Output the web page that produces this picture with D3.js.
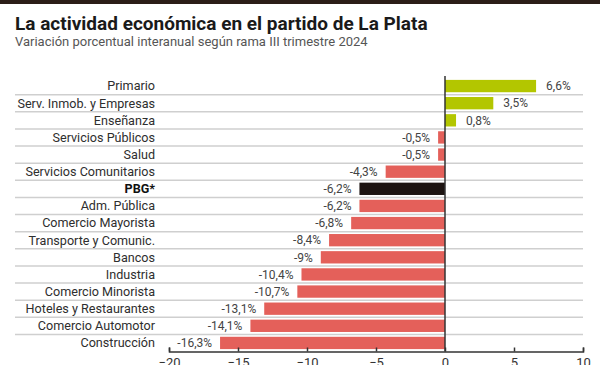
<!DOCTYPE html>
<html>
<head>
<meta charset="utf-8">
<script src="https://cdn.jsdelivr.net/npm/d3@7"></script>
<style>
  body { margin: 0; background: #fff; }
  svg { display: block; font-family: Roboto, "Liberation Sans", sans-serif; }
</style>
</head>
<body>
<svg id="chart" width="600" height="365"></svg>
<script>
// datos
const ramas = ["Primario", "Serv. Inmob. y Empresas", "Enseñanza", "Servicios Públicos", "Salud",
  "Servicios Comunitarios", "PBG*", "Adm. Pública", "Comercio Mayorista", "Transporte y Comunic.",
  "Bancos", "Industria", "Comercio Minorista", "Hoteles y Restaurantes", "Comercio Automotor", "Construcción"];
const variacion = [6.6, 3.5, 0.8, -0.5, -0.5, -4.3, -6.2, -6.2, -6.8, -8.4, -9, -10.4, -10.7, -13.1, -14.1, -16.3];
const ticks = [-20, -15, -10, -5, 0, 5, 10];
const destacado = "PBG*";

const data = ramas.map((r, i) => ({rama: r, valor: variacion[i]}));

const svg = d3.select("#chart");

// franja superior
svg.append("rect").attr("x", 0).attr("y", 0).attr("width", 600).attr("height", 4).attr("fill", "#2b1d17");

svg.append("text")
    .attr("x", 15).attr("y", 30)
    .attr("font-size", 19).attr("font-weight", "bold").attr("fill", "#1a1a1a")
    .text("La actividad económica en el partido de La Plata");
svg.append("text")
    .attr("x", 15).attr("y", 46)
    .attr("font-size", 13).attr("fill", "#555")
    .text("Variación porcentual interanual según rama III trimestre 2024");

const x = d3.scaleLinear().domain([-20, 10]).range([169, 583]);
const y = d3.scaleBand().domain(ramas).range([77.5, 351.5]).paddingInner(0.28).paddingOuter(0.14);
const step = y.step();

// lineas de grilla entre filas
svg.append("g")
  .selectAll("line")
  .data(ramas.slice(1))
  .join("line")
    .attr("x1", 15).attr("x2", 583)
    .attr("y1", d => y(d) - step * y.paddingInner() / 2)
    .attr("y2", d => y(d) - step * y.paddingInner() / 2)
    .attr("stroke", "#cfcfcf").attr("stroke-width", 1.5);

// etiquetas de ramas
svg.append("g")
  .selectAll("text")
  .data(data)
  .join("text")
    .attr("x", 155)
    .attr("y", d => y(d.rama) + y.bandwidth() / 2)
    .attr("dy", "0.35em")
    .attr("text-anchor", "end")
    .attr("font-size", 12.6)
    .attr("font-weight", d => d.rama === destacado ? "bold" : "normal")
    .attr("fill", d => d.rama === destacado ? "#111" : "#2e2e2e")
    .text(d => d.rama);

// barras
svg.append("g")
  .selectAll("rect")
  .data(data)
  .join("rect")
    .attr("x", d => x(Math.min(0, d.valor)))
    .attr("y", d => y(d.rama))
    .attr("width", d => Math.abs(x(d.valor) - x(0)))
    .attr("height", y.bandwidth())
    .attr("fill", d => d.rama === destacado ? "#1c1311" : (d.valor >= 0 ? "#b3c600" : "#e4605a"));

// valores
const fmt = v => String(v).replace(".", ",") + "%";
svg.append("g")
  .selectAll("text")
  .data(data)
  .join("text")
    .attr("x", d => d.valor >= 0 ? x(d.valor) + 10 : x(d.valor) - 8)
    .attr("y", d => y(d.rama) + y.bandwidth() / 2)
    .attr("dy", "0.35em")
    .attr("text-anchor", d => d.valor >= 0 ? "start" : "end")
    .attr("font-size", 12)
    .attr("fill", "#444")
    .text(d => fmt(d.valor));

// linea del cero
svg.append("line")
    .attr("x1", x(0)).attr("x2", x(0))
    .attr("y1", 76).attr("y2", 351.5)
    .attr("stroke", "#333").attr("stroke-width", 1.5);

// eje x
const axis = svg.append("g")
    .attr("transform", "translate(0,351.5)")
    .call(d3.axisBottom(x).tickValues(ticks).tickSizeInner(-4).tickSizeOuter(-4).tickPadding(6).tickFormat(d3.format("d")));
axis.select(".domain").attr("stroke", "#333").attr("stroke-width", 1.5);
axis.selectAll(".tick line").attr("stroke", "#333").attr("stroke-width", 1.5);
axis.selectAll(".tick text").attr("font-size", 13).attr("fill", "#333").attr("font-family", "Roboto, sans-serif");
</script>
</body>
</html>
